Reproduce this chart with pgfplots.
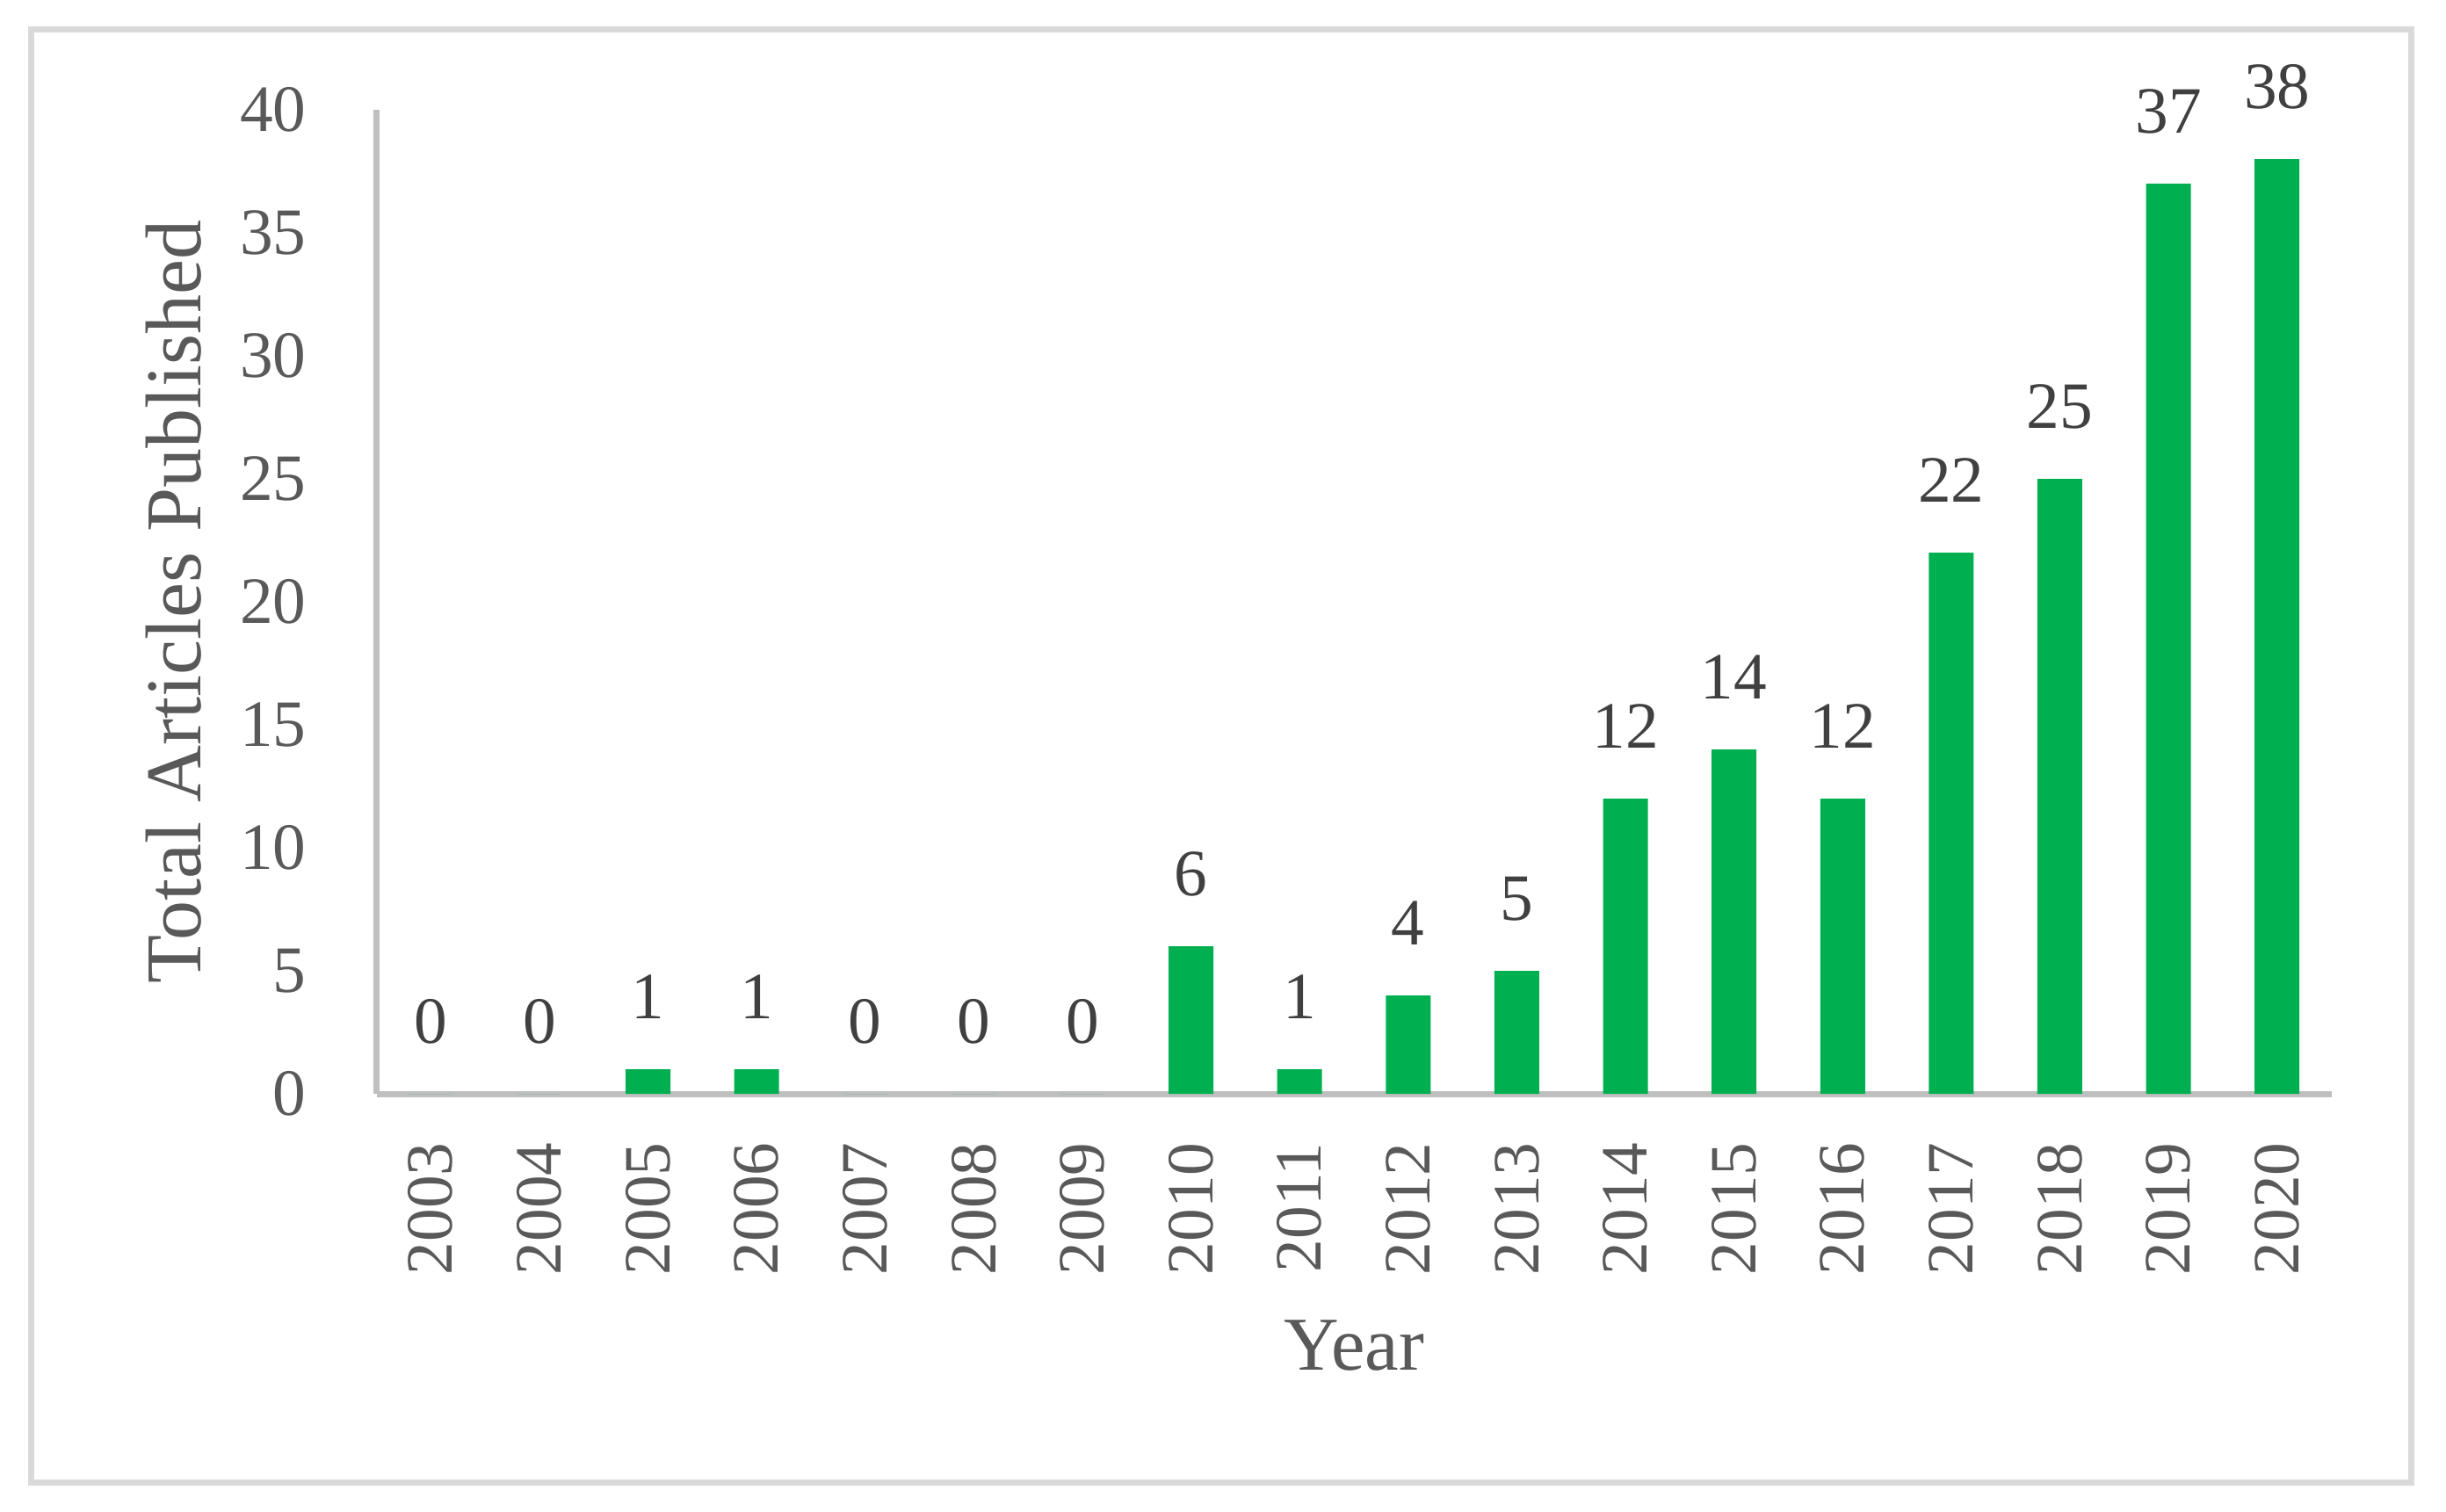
\documentclass[border=0pt]{standalone}
\usepackage{fontspec}
\setmainfont{Liberation Serif}
\usepackage{pgfplots}
\pgfplotsset{compat=1.18}
\definecolor{barg}{HTML}{00B050}
\definecolor{axg}{HTML}{BFBFBF}
\definecolor{frg}{HTML}{D9D9D9}
\definecolor{txg}{HTML}{595959}
\definecolor{vlg}{HTML}{404040}
\begin{document}
\begin{tikzpicture}
\useasboundingbox (0,0) rectangle (417.6pt,258pt);
\draw[frg, line width=1.05pt] (5.325pt,4.875pt) rectangle (411.675pt,253.05pt);
\begin{axis}[
  at={(64.275pt,71.25pt)}, anchor=south west,
  scale only axis, width=333.75pt, height=168pt,
  xmin=-0.5, xmax=17.5, ymin=0, ymax=40,
  axis lines=left, axis line style={draw=axg, line width=1.05pt, -},
  major tick length=0pt,
  xtick={0,...,17},
  xticklabels={2003,2004,2005,2006,2007,2008,2009,2010,2011,2012,2013,2014,2015,2016,2017,2018,2019,2020},
  ytick={0,5,...,40},
  /pgf/number format/assume math mode=true,
  tick label style={font=\fontsize{11.3pt}{13pt}\selectfont, text=txg, inner sep=0pt},
  xticklabel style={rotate=90, anchor=east},
  xticklabel shift=8.1pt, yticklabel shift=11.8pt,
  xlabel={Year}, ylabel={Total Articles Published},
  label style={font=\fontsize{13pt}{15pt}\selectfont, text=txg},
  xlabel style={at={(axis description cs:0.5,-0.2804)}, anchor=base},
  ylabel style={font=\fontsize{13.5pt}{15pt}\selectfont, at={(axis description cs:-0.0901,0.5)}, anchor=base},
  ybar, bar width=7.65pt,
  nodes near coords,
  nodes near coords style={font=\fontsize{11.3pt}{13pt}\selectfont, text=vlg, anchor=base, inner sep=0pt, yshift=8.7pt},
  clip=false,
]
\addplot[fill=barg, draw=none] coordinates {(0,0) (1,0) (2,1) (3,1) (4,0) (5,0) (6,0) (7,6) (8,1) (9,4) (10,5) (11,12) (12,14) (13,12) (14,22) (15,25) (16,37) (17,38)};
\end{axis}
\end{tikzpicture}
\end{document}
